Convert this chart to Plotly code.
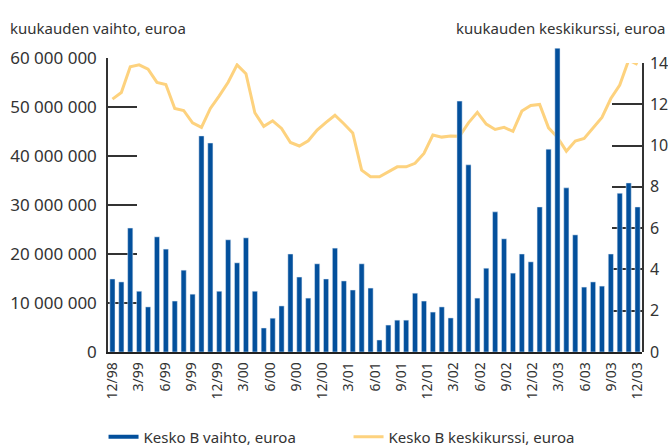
import numpy as np
import plotly.graph_objects as go

# Monthly turnover (euros), 60 months
turnover = [14.9, 14.3, 25.3, 12.4, 9.2, 23.5, 21.0, 10.4, 16.7, 11.8,
            44.1, 42.65, 12.4, 22.9, 18.2, 23.3, 12.4, 4.9, 6.9, 9.4,
            20.0, 15.3, 11.0, 18.0, 14.9, 21.2, 14.5, 12.65, 18.0, 13.05,
            2.45, 5.5, 6.5, 6.5, 12.0, 10.4, 8.15, 9.2, 6.95, 51.2,
            38.2, 11.0, 17.1, 28.6, 23.1, 16.1, 20.0, 18.4, 29.6, 41.4,
            62.0, 33.5, 23.9, 13.25, 14.3, 13.45, 20.0, 32.4, 34.5, 29.6]
turnover = [v * 1e6 for v in turnover]

# Monthly average price (euros)
price = [12.25, 12.57, 13.82, 13.91, 13.70, 13.06, 12.96, 11.80, 11.70, 11.10,
         10.88, 11.80, 12.41, 13.07, 13.91, 13.48, 11.59, 10.93, 11.20, 10.83,
         10.15, 9.98, 10.23, 10.75, 11.12, 11.47, 11.06, 10.61, 8.81, 8.49,
         8.49, 8.72, 8.97, 8.97, 9.14, 9.62, 10.51, 10.41, 10.46, 10.45,
         11.10, 11.61, 11.04, 10.78, 10.88, 10.69, 11.67, 11.94, 11.99, 10.86,
         10.40, 9.73, 10.22, 10.35, 10.83, 11.36, 12.28, 12.93, 14.14, 13.93]

tick_labels = ["12/98", "3/99", "6/99", "9/99", "12/99", "3/00", "6/00", "9/00",
               "12/00", "3/01", "6/01", "9/01", "12/01", "3/02", "6/02", "9/02",
               "12/02", "3/03", "6/03", "9/03", "12/03"]

left_ticks = [0, 10e6, 20e6, 30e6, 40e6, 50e6, 60e6]
right_ticks = [0, 2, 4, 6, 8, 10, 12, 14]

BLUE = "#03509c"
YELLOW = "#fdd27e"
TXT = "#333333"
FONT = "Noto Sans"

x = list(range(len(turnover)))

# plot area: top 48 px (room for the tallest bar), bottom 94 px
PLOT_H = 446 - 48 - 94          # 304
LEFT_TOP = 294 / PLOT_H         # 60 M level
RIGHT_TOP = 289 / PLOT_H        # 14 level

fig = go.Figure()
# legend entry shown as a line sample (also anchors the visible left axis y)
fig.add_trace(go.Scatter(x=[None], y=[None], mode="lines", yaxis="y",
                         line=dict(color=BLUE, width=4),
                         name="Kesko B vaihto, euroa"))
# bars on a hidden axis that shares the left scale but has headroom
fig.add_trace(go.Bar(x=x, y=turnover, marker_color=BLUE, showlegend=False,
                     yaxis="y3", name="Kesko B vaihto, euroa"))
fig.add_trace(go.Scatter(x=x, y=price, mode="lines", yaxis="y2",
                         cliponaxis=False,
                         line=dict(color=YELLOW, width=3),
                         name="Kesko B keskikurssi, euroa"))

axis_common = dict(ticks="inside", tickcolor="#333333", tickwidth=1.5,
                   showline=True, linecolor="#333333", linewidth=1.5,
                   showgrid=False, zeroline=False, layer="below traces",
                   anchor="x")

fig.update_layout(
    width=668, height=446,
    margin=dict(l=108, r=26, t=48, b=94, autoexpand=False),
    paper_bgcolor="white", plot_bgcolor="rgba(0,0,0,0)",
    font=dict(family=FONT, size=15, color=TXT),
    separators=". ",
    bargap=0.42,
    legend_traceorder="normal",
    xaxis=dict(range=[-0.5, len(x) - 0.5],
               tickvals=list(np.linspace(0, len(x) - 1, len(tick_labels))),
               ticktext=tick_labels, tickangle=-90,
               tickfont=dict(size=14, color=TXT),
               showline=True, linecolor="#222222", linewidth=1.5,
               ticks="", showgrid=False, zeroline=False,
               ticklabelstandoff=3),
    yaxis=dict(range=[0, 60e6], domain=[0, LEFT_TOP], tickvals=left_ticks,
               tickformat=",d", tickfont=dict(size=17, color=TXT),
               ticklen=29, ticklabelstandoff=6, **axis_common),
    yaxis2=dict(range=[0, 14], domain=[0, RIGHT_TOP], side="right",
                tickvals=right_ticks, tickfont=dict(size=16, color=TXT),
                ticklen=30, ticklabelstandoff=3, **axis_common),
    yaxis3=dict(range=[0, 60e6 / LEFT_TOP], domain=[0, 1], anchor="x",
                visible=False, showgrid=False, zeroline=False),
    legend=dict(orientation="h", yref="container", xref="container",
                x=0.155, y=0.02, xanchor="left", yanchor="middle",
                entrywidth=200, entrywidthmode="pixels",
                font=dict(size=15, color=TXT), itemwidth=30),
    annotations=[
        dict(text="kuukauden vaihto, euroa", xref="paper", yref="paper",
             x=-100 / 534, y=1 + 20 / PLOT_H, xanchor="left", yanchor="middle",
             showarrow=False, font=dict(size=15, color=TXT)),
        dict(text="kuukauden keskikurssi, euroa", xref="paper", yref="paper",
             x=1 + 25 / 534, y=1 + 20 / PLOT_H, xanchor="right", yanchor="middle",
             showarrow=False, font=dict(size=15, color=TXT)),
    ],
)

fig.write_html("out.html", config={"displayModeBar": False},
               post_script="document.body.style.margin='0';document.body.style.overflow='hidden';")
